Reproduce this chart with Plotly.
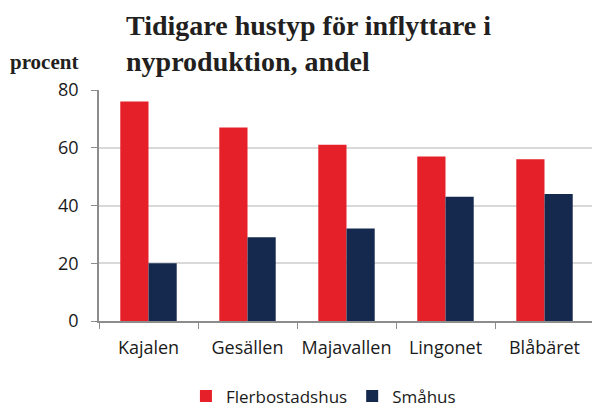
import plotly.graph_objects as go

categories = ["Kajalen", "Gesällen", "Majavallen", "Lingonet", "Blåbäret"]
flerbostadshus = [76, 67, 61, 57, 56]
smahus = [20, 29, 32, 43, 44]
y_ticks = [0, 20, 40, 60, 80]

sans = "Open Sans, Liberation Sans, sans-serif"
serif = "Liberation Serif, DejaVu Serif, serif"
tick_font = dict(family=sans, size=18, color="#1a1a1a")

fig = go.Figure()
fig.add_trace(go.Bar(x=categories, y=flerbostadshus, name="Flerbostadshus",
                     marker=dict(color="#E52028", line=dict(width=0))))
fig.add_trace(go.Bar(x=categories, y=smahus, name="Småhus",
                     marker=dict(color="#15294F", line=dict(width=0))))

# plot area runs just past the right edge of the 592px window, as in the reference
fig.update_layout(
    width=594, height=407,
    margin=dict(l=99, r=0, t=90, b=86, autoexpand=False),
    paper_bgcolor="white", plot_bgcolor="white",
    barmode="group", bargap=0.43, bargroupgap=0,
    showlegend=True,
    legend=dict(orientation="h", x=0.313, xref="container", xanchor="left",
                y=0.026, yref="container", yanchor="middle",
                font=dict(family=sans, size=17, color="#1a1a1a"),
                itemwidth=30, traceorder="normal"),
    xaxis=dict(type="category", showline=True, linecolor="#8C8C8C", linewidth=1.5,
               ticks="outside", tickson="boundaries", ticklen=6, tickcolor="#8C8C8C",
               tickfont=tick_font, showgrid=False, ticklabelstandoff=10,
               tickangle=0, automargin=False),
    yaxis=dict(range=[0, 80], tickvals=y_ticks, showline=True, linecolor="#8C8C8C", linewidth=1.5,
               ticks="outside", ticklen=6, tickcolor="#8C8C8C", ticklabelstandoff=9,
               gridcolor="#D9D9D9", gridwidth=1.5, tickfont=tick_font, zeroline=False,
               automargin=False),
    annotations=[
        dict(text="<b>Tidigare hustyp för inflyttare i<br>nyproduktion, andel</b>",
             xref="paper", yref="paper", x=0.051, y=1.0, yshift=11, xanchor="left", yanchor="bottom",
             align="left", showarrow=False,
             font=dict(family=serif, size=28, color="#231F20")),
        dict(text="<b>procent</b>", xref="paper", yref="paper", x=-0.184, y=1.0, yshift=14,
             xanchor="left", yanchor="bottom", showarrow=False,
             font=dict(family=serif, size=21, color="#231F20")),
    ],
)

# remove the browser's default 8px body margin so the figure fills the window exactly
fig.write_html("out.html",
               config={"displayModeBar": False},
               post_script="document.body.style.margin='0';document.body.style.overflow='hidden';")
